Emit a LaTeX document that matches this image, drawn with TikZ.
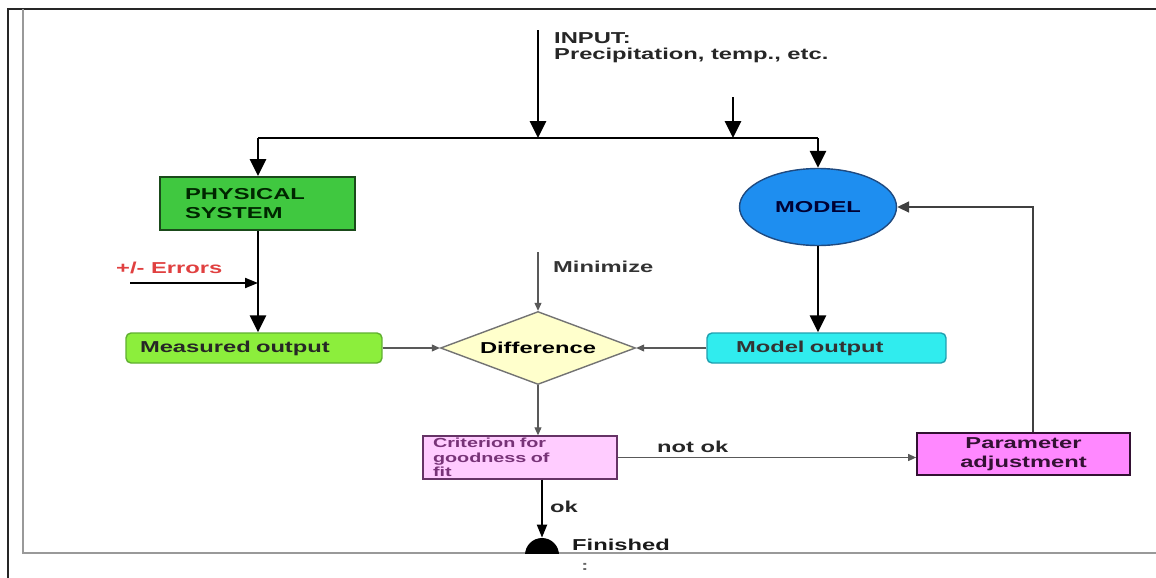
\documentclass[tikz,border=0pt]{standalone}
\usepackage{fontspec}
\setmainfont{Liberation Sans}[FakeStretch=1.5]
\usetikzlibrary{shapes.geometric, arrows.meta, positioning, calc}
\newcommand{\boxfont}{\fontsize{9}{11}\selectfont\bfseries}
\newcommand{\critfont}{\fontsize{7.5}{8.3}\selectfont\bfseries}
\definecolor{physgreen}{HTML}{40C840}
\definecolor{physborder}{HTML}{1A4A1A}
\definecolor{modelblue}{HTML}{1E8EF0}
\definecolor{modelborder}{HTML}{1F4A80}
\definecolor{measgreen}{HTML}{8CEE3C}
\definecolor{measborder}{HTML}{60B030}
\definecolor{outcyan}{HTML}{30ECEE}
\definecolor{outborder}{HTML}{20A0B0}
\definecolor{diffyellow}{HTML}{FFFFCC}
\definecolor{critpink}{HTML}{FFCCFF}
\definecolor{critborder}{HTML}{663366}
\definecolor{critpurple}{HTML}{773377}
\definecolor{parampink}{HTML}{FF88FF}
\definecolor{paramborder}{HTML}{331133}
\definecolor{errred}{HTML}{E04040}

\begin{document}
\begin{tikzpicture}[x=0.02cm,y=-0.02cm,
    every node/.style={font=\boxfont},
    bigarrow/.style={line width=1.6pt,-{Triangle[width=0.32cm,length=0.34cm]}},
    midarrow/.style={line width=1.1pt,-{Triangle[width=0.2cm,length=0.26cm]}},
    thinarrow/.style={line width=0.6pt,draw=black!65,-{Triangle[width=0.14cm,length=0.16cm]}},
    looparrow/.style={line width=1pt,draw=black!75,-{Triangle[width=0.22cm,length=0.24cm]}}]
    \useasboundingbox (0,0) rectangle (1156,578);

    % frame
    \draw[line width=1.3pt,black!85] (8,578) -- (8,9) -- (1156,9);
    \draw[line width=0.8pt,black!40] (23,9) -- (23,553) -- (1156,553);

    % blocks
    \node[draw=physborder,fill=physgreen,line width=1pt,minimum width=3.9cm,minimum height=1.06cm,
          text width=2.9cm,inner xsep=0.5cm,align=left,text=green!15!black] (phys) at (257.5,203.5) {PHYSICAL\\SYSTEM};
    \node[ellipse,draw=modelborder,fill=modelblue,line width=0.8pt,minimum width=3.14cm,minimum height=1.54cm,
          inner sep=0,text=blue!20!black] (model) at (818,207) {MODEL};

    \node[rounded corners=0.1cm,draw=measborder,fill=measgreen,line width=0.8pt,minimum width=5.12cm,minimum height=0.6cm,
          text width=4.56cm,inner xsep=0.28cm,align=left,text=black!85] (meas) at (254,348) {Measured output};
    \node[diamond,draw=black!55,fill=diffyellow,line width=0.8pt,minimum width=3.9cm,minimum height=1.46cm,
          inner sep=0,aspect=2.67] (diff) at (538,348) {Difference};
    \node[rounded corners=0.1cm,draw=outborder,fill=outcyan,line width=0.8pt,minimum width=4.78cm,minimum height=0.6cm,
          text width=3.62cm,inner xsep=0.58cm,align=left,text=black!80] (mout) at (826.5,348) {Model output};

    \node[draw=critborder,fill=critpink,line width=0.8pt,minimum width=3.88cm,minimum height=0.86cm,
          text width=3.48cm,inner xsep=0.2cm,inner ysep=0.02cm,align=left,font=\critfont,text=critpurple] (crit) at (520,457.5) {Criterion for\\goodness of\\fit};
    \node[draw=paramborder,fill=parampink,line width=1pt,minimum width=4.26cm,minimum height=0.84cm,
          inner ysep=0,align=center,text=paramborder] (param) at (1023.5,454) {Parameter\\adjustment};

    \begin{scope}
        \clip (0,0) rectangle (1156,553);
        \node[circle,fill=black,minimum size=0.68cm,inner sep=0] (fin) at (542,555) {};
    \end{scope}

    % labels
    \node[anchor=north west,align=left,font=\fontsize{9}{9.6}\selectfont\bfseries,text=black!85] (input) at (548,26) {INPUT:\\Precipitation, temp., etc.};
    \node[anchor=west,text=errred] (errlab) at (110,268) {+/- Errors};
    \node[anchor=west,text=black!80] (minlab) at (547,267) {Minimize};
    \node[anchor=west,text=black!85] (notok) at (651,447) {not ok};
    \node[anchor=west,text=black!85] (oklab) at (544,507) {ok};
    \node[anchor=west,text=black!90] (finlab) at (566,545) {Finished};
    \node[font=\fontsize{8}{8}\selectfont\bfseries,text=black!60] (dots) at (585,567) {:};

    % connectors
    \coordinate (intop) at (538,30);
    \coordinate (injoin) at (538,138);
    \coordinate (xtop) at (733,97);
    \coordinate (xjoin) at (733,138);
    \coordinate (busl) at (258,138);
    \coordinate (busr) at (818,138);
    \coordinate (errstart) at (130,283);
    \coordinate (mintop) at (538,252);
    \coordinate (turn) at (1033,207);

    \draw[line width=1.6pt] (busl) -- (busr);
    \draw[bigarrow] (intop) -- (injoin);
    \draw[bigarrow] (xtop) -- (xjoin);
    \draw[bigarrow] (busl) -- (busl |- phys.north);
    \draw[bigarrow] (busr) -- (model.north);
    \draw[bigarrow] (phys.south -| busl) -- (busl |- meas.north);
    \draw[midarrow] (errstart) -- (errstart -| busl);
    \draw[bigarrow] (model.south) -- (model.south |- mout.north);

    \draw[thinarrow] (mintop) -- (diff.north);
    \draw[thinarrow] (meas.east) -- (diff.west);
    \draw[thinarrow] (mout.west) -- (diff.east);
    \draw[thinarrow] (diff.south) -- (diff.south |- crit.north);
    \draw[thinarrow] (crit.east) -- (crit.east -| param.west);
    \draw[looparrow] (param.north -| turn) -- (turn) -- (model.east);
    \draw[midarrow] (crit.south -| fin) -- (fin.north);
\end{tikzpicture}
\end{document}
